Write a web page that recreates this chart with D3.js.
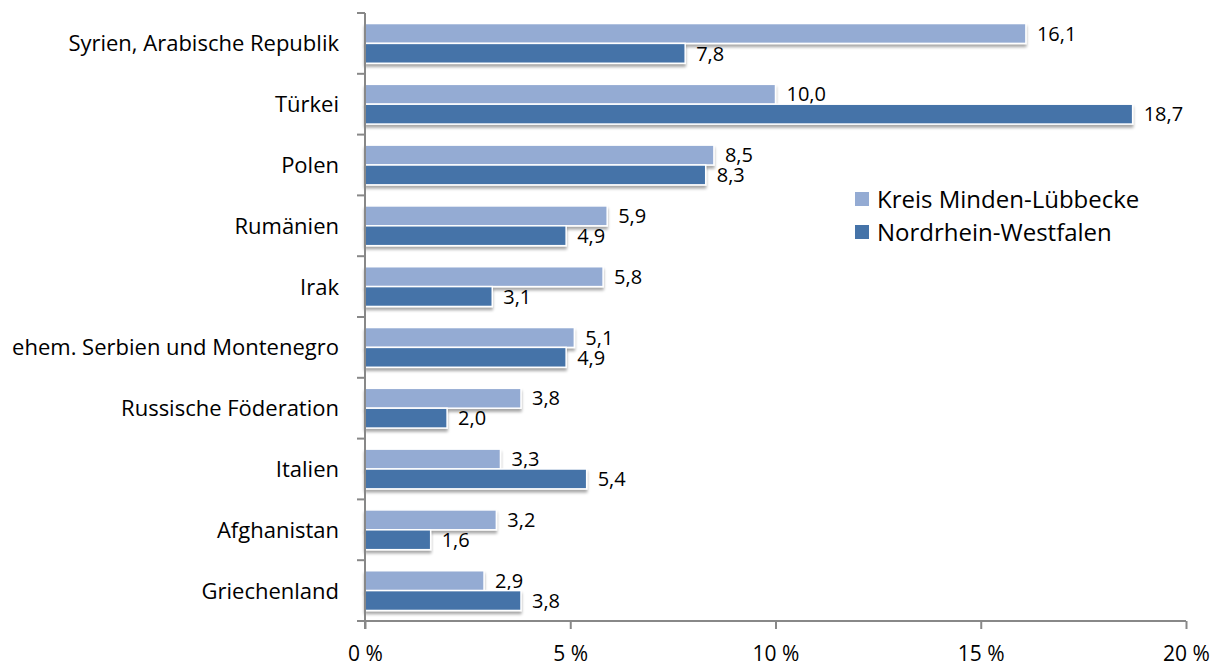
<!DOCTYPE html>
<html><head><meta charset="utf-8">
<script src="https://cdn.jsdelivr.net/npm/d3@7"></script>
<style>body{margin:0;background:#fff}svg{display:block}text{font-family:"Open Sans",Lato,sans-serif;fill:#000}</style>
</head><body>
<svg id="c" width="1220" height="666"></svg>
<script>
const categories = ["Syrien, Arabische Republik","Türkei","Polen","Rumänien","Irak","ehem. Serbien und Montenegro","Russische Föderation","Italien","Afghanistan","Griechenland"];
const seriesNames = ["Kreis Minden-Lübbecke","Nordrhein-Westfalen"];
const mindenValues = [16.1,10.0,8.5,5.9,5.8,5.1,3.8,3.3,3.2,2.9];
const nrwValues = [7.8,18.7,8.3,4.9,3.1,4.9,2.0,5.4,1.6,3.8];
const xTicks = [0,5,10,15,20];
const colors = ["#94abd3","#4573a8"];

const svg = d3.select("#c");
const x = d3.scaleLinear().domain([0,20]).range([365,1186]);
const y = d3.scaleBand().domain(categories).range([13,621]).paddingInner(0).paddingOuter(0);
const inner = d3.scaleBand().domain([0,1]).range([0,y.bandwidth()]).paddingInner(0.0).paddingOuter(0.53);

const defs = svg.append("defs");
const f = defs.append("filter").attr("id","sh").attr("x","-5%").attr("y","-30%").attr("width","110%").attr("height","180%");
f.append("feGaussianBlur").attr("in","SourceAlpha").attr("stdDeviation",1.5);
f.append("feOffset").attr("dx",0).attr("dy",2.5).attr("result","b");
f.append("feComponentTransfer").append("feFuncA").attr("type","linear").attr("slope",0.35);
const m = f.append("feMerge"); m.append("feMergeNode"); m.append("feMergeNode").attr("in","SourceGraphic");

const data = categories.map((c,i)=>({c, v:[mindenValues[i], nrwValues[i]]}));
const g = svg.append("g");
data.forEach(d=>{
  d.v.forEach((v,s)=>{
    const yy = y(d.c)+inner(s);
    g.append("rect").attr("x",x(0)).attr("y",yy).attr("width",x(v)-x(0)).attr("height",inner.bandwidth())
      .attr("fill",colors[s]).attr("stroke","#fff").attr("stroke-width",1.5).attr("filter","url(#sh)");
    g.append("text").attr("x",x(v)+11).attr("y",yy+inner.bandwidth()/2).attr("dy","0.36em")
      .attr("font-size",20).text(d3.format(".1f")(v).replace(".",","));
  });
});

// axes
const ax = svg.append("g").attr("transform","translate(0,621)")
  .call(d3.axisBottom(x).tickValues(xTicks).tickSize(8).tickFormat(d=>d+" %"));
ax.select(".domain").attr("stroke","#888").attr("stroke-width",2).attr("d","M365,0H1186");
ax.selectAll(".tick line").attr("stroke","#888").attr("stroke-width",2);
ax.selectAll(".tick text").attr("font-size",21).attr("y",32).attr("dy","0.36em").style("font-family","'Open Sans',Lato,sans-serif").attr("fill","#000");

const ay = svg.append("g").attr("transform","translate(365,0)");
ay.append("line").attr("x1",0).attr("x2",0).attr("y1",13).attr("y2",629).attr("stroke","#888").attr("stroke-width",2);
const tickYs = categories.map(c=>y(c)).concat([621]);
ay.selectAll("line.t").data(tickYs).enter().append("line").attr("class","t")
  .attr("x1",-8).attr("x2",0).attr("y1",d=>d).attr("y2",d=>d).attr("stroke","#888").attr("stroke-width",2);
ay.selectAll("text").data(categories).enter().append("text")
  .attr("x",-26).attr("y",d=>y(d)+y.bandwidth()/2).attr("dy","0.36em").attr("text-anchor","end")
  .attr("font-size",22).text(d=>d);

// legend
const lg = svg.append("g");
seriesNames.forEach((n,i)=>{
  lg.append("rect").attr("x",855).attr("y",192+i*33).attr("width",14).attr("height",14).attr("fill",colors[i]);
  lg.append("text").attr("x",877).attr("y",199+i*33).attr("dy","0.36em").attr("font-size",24).text(n);
});
</script>
</body></html>
